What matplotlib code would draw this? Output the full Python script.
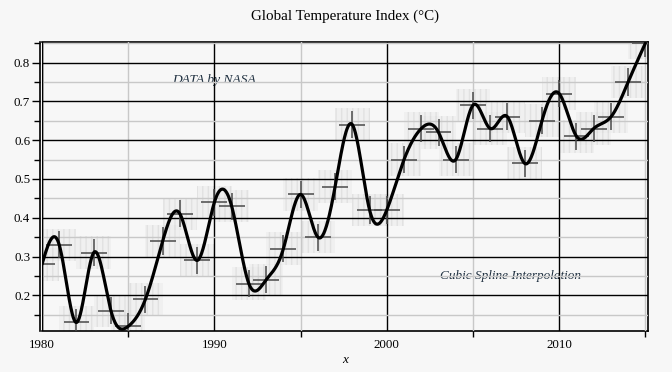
import numpy as np
import matplotlib
matplotlib.use("Agg")
import matplotlib.pyplot as plt
from matplotlib.patches import Rectangle
from matplotlib.ticker import MultipleLocator

years = list(range(1980, 2016))
temps = [0.28, 0.33, 0.13, 0.31, 0.16, 0.12, 0.19, 0.34, 0.41, 0.29,
         0.44, 0.43, 0.23, 0.24, 0.32, 0.46, 0.35, 0.48, 0.64, 0.42,
         0.42, 0.55, 0.63, 0.62, 0.55, 0.69, 0.63, 0.66, 0.54, 0.65,
         0.72, 0.61, 0.63, 0.66, 0.75, 0.85]
title = "Global Temperature Index (°C)"
note_top = "DATA by NASA"
note_bottom = "Cubic Spline Interpolation"


def natural_spline(x, y, xs):
    x = np.asarray(x, float); y = np.asarray(y, float)
    n = len(x); h = np.diff(x)
    A = np.zeros((n, n)); b = np.zeros(n)
    A[0, 0] = 1; A[-1, -1] = 1
    for i in range(1, n - 1):
        A[i, i - 1] = h[i - 1]; A[i, i] = 2 * (h[i - 1] + h[i]); A[i, i + 1] = h[i]
        b[i] = 3 * ((y[i + 1] - y[i]) / h[i] - (y[i] - y[i - 1]) / h[i - 1])
    c = np.linalg.solve(A, b)
    idx = np.clip(np.searchsorted(x, xs) - 1, 0, n - 2)
    dx = xs - x[idx]
    bb = (y[idx + 1] - y[idx]) / h[idx] - h[idx] * (2 * c[idx] + c[idx + 1]) / 3
    d = (c[idx + 1] - c[idx]) / (3 * h[idx])
    return y[idx] + bb * dx + c[idx] * dx ** 2 + d * dx ** 3


plt.rcParams['font.family'] = ['Liberation Serif', 'DejaVu Serif']
bg = '#f7f7f7'
fig = plt.figure(figsize=(6.72, 3.72), dpi=100, facecolor=bg)
ax = fig.add_axes([42 / 672, 41 / 372, 606 / 672, 289 / 372], facecolor=bg)

ax.set_xlim(1980, 2015.15)
ax.set_ylim(0.108, 0.853)

# grid
ax.xaxis.set_major_locator(MultipleLocator(10))
ax.xaxis.set_minor_locator(MultipleLocator(5))
ax.yaxis.set_major_locator(MultipleLocator(0.1))
ax.yaxis.set_minor_locator(MultipleLocator(0.05))
ax.grid(which='major', color='black', lw=1.0, zorder=1)
ax.grid(which='minor', color='#c8c8c8', lw=1.0, zorder=1)
ax.set_axisbelow(False)

# notes
ax.text(1990, 0.755, note_top, style='italic', fontsize=9.7, color='#1f3040',
        ha='center', va='center', zorder=0.5)
ax.text(2007.2, 0.25, note_bottom, style='italic', fontsize=9.5, color='#1f3040',
        ha='center', va='center', zorder=0.5)

# shaded error boxes and crosses
for xv, yv in zip(years, temps):
    r = Rectangle((xv - 1.0, yv - 0.042), 2.0, 0.084, facecolor='#ececec',
                  edgecolor='#d6d6d6', hatch='|||', lw=0, alpha=0.55, zorder=2)
    ax.add_patch(r)
ax.errorbar(years, temps, xerr=0.75, yerr=0.035, fmt='none', ecolor='#4a4a4a',
            elinewidth=1.1, capsize=0, zorder=3)

xs = np.linspace(years[0], years[-1], 1200)
ax.plot(xs, natural_spline(years, temps, xs), color='black', lw=2.3, zorder=4,
        solid_capstyle='round')

ax.set_title(title, fontsize=10.8, pad=16)
ax.set_xlabel('x', style='italic', fontsize=9.5, labelpad=2)
ax.set_yticks([0.2, 0.3, 0.4, 0.5, 0.6, 0.7, 0.8])
ax.set_yticklabels(['0.2', '0.3', '0.4', '0.5', '0.6', '0.7', '0.8'])
ax.set_xticks([1980, 1990, 2000, 2010])
ax.tick_params(axis='both', labelsize=9.3, colors='black', direction='out')
ax.tick_params(axis='y', which='major', length=6, width=1, pad=1)
ax.tick_params(axis='y', which='minor', length=4, width=1)
ax.tick_params(axis='x', which='major', length=0, pad=6)
ax.tick_params(axis='x', which='minor', length=4, width=1)
for s in ax.spines.values():
    s.set_color('black'); s.set_linewidth(1.2)
ax.axvline(1980, color='black', lw=1.0, zorder=5)
ax.spines['left'].set_position(('outward', 1.5))

fig.savefig('out.png', dpi=100, facecolor=bg)
